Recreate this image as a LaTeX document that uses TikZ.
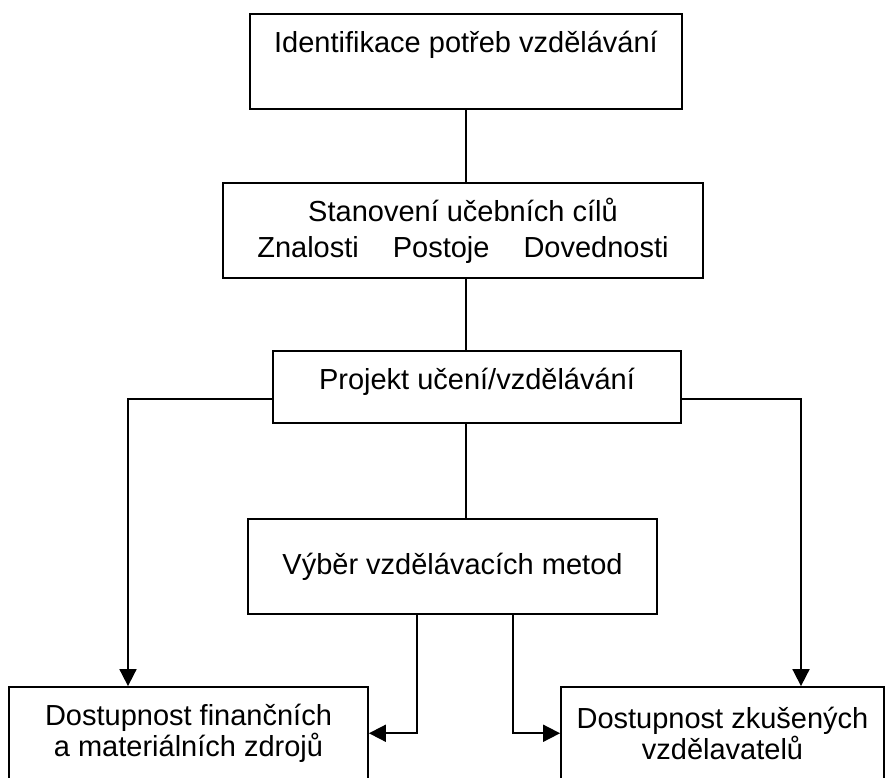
\documentclass[tikz,border=0pt]{standalone}
\usepackage{fontspec}
\setmainfont{Liberation Sans}
\usetikzlibrary{arrows.meta}
\tikzset{
	box/.style = {draw, line width=1.8pt, align=center, inner sep=0pt, font=\fontsize{29}{31}\selectfont},
	sipka/.style = {line width=1.8pt, -{Triangle[length=17pt,width=17pt]}}
}
\begin{document}
\begin{tikzpicture}[x=1pt, y=-1pt, line width=1.8pt]
	\useasboundingbox (0,0) rectangle (885,778);
	\clip (0,0) rectangle (885,778);
	\node [box, minimum width=432pt, minimum height=95pt, text height=21pt, text depth=38pt] (ident) at (466,61.5) {Identifikace potřeb vzdělávání};
	\node [box, minimum width=480pt, minimum height=95pt] (cile) at (463,230.5) {Stanovení učebních cílů\\[5pt]Znalosti\hspace{34pt}Postoje\hspace{34pt}Dovednosti};
	\node [box, minimum width=408pt, minimum height=72pt, text height=21pt, text depth=17pt] (projekt) at (477,387) {Projekt učení/vzdělávání};
	\node [box, minimum width=409pt, minimum height=95pt, text height=21pt, text depth=5pt] (vyber) at (452.5,566.5) {Výběr vzdělávacích metod};
	\node [box, minimum width=359pt, minimum height=92.5pt] (zdroje) at (188.5,733.25) {Dostupnost finančních\\a materiálních zdrojů};
	\node [box, minimum width=323pt, minimum height=92.5pt] (vzdel) at (722.5,733.25) {Dostupnost zkušených\\vzdělavatelů};
	\draw (ident.south) -- (ident.south |- cile.north);
	\draw (ident.south |- cile.south) -- (ident.south |- projekt.north);
	\draw (ident.south |- projekt.south) -- (ident.south |- vyber.north);
	\draw [sipka] ([yshift=-12pt]projekt.west) -| ([xshift=-60.5pt]zdroje.north);
	\draw [sipka] ([yshift=-12pt]projekt.east) -| ([xshift=78.5pt]vzdel.north);
	\draw [sipka] ([xshift=-35.5pt]vyber.south) |- (zdroje.east);
	\draw [sipka] ([xshift=60.5pt]vyber.south) |- (vzdel.west);
\end{tikzpicture}
\end{document}
